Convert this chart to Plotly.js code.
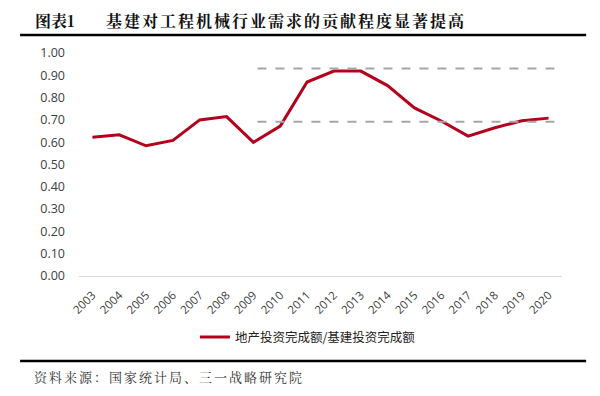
<!DOCTYPE html>
<html><head><meta charset="utf-8">
<script src="https://cdn.plot.ly/plotly-3.0.1.min.js"></script>
<style>
html,body{margin:0;padding:0;background:#fff}#chart{width:600px;height:396px}
g.annotation[data-index="1"] text{letter-spacing:2px}
g.annotation[data-index="2"] text{letter-spacing:2px}
</style>
</head><body><div id="chart"></div>
<script>
const years = ['2003','2004','2005','2006','2007','2008','2009','2010','2011','2012','2013','2014','2015','2016','2017','2018','2019','2020'];
const ratio = [0.622,0.633,0.584,0.608,0.700,0.715,0.599,0.672,0.870,0.919,0.919,0.854,0.754,0.695,0.627,0.665,0.696,0.708];
const seriesName = '地产投资完成额/基建投资完成额';
const refLevels = [0.931, 0.692];
const yTicks = [0,0.1,0.2,0.3,0.4,0.5,0.6,0.7,0.8,0.9,1.0];
const figLabel = '<b>图表1</b>';
const titleText = '<b>基建对工程机械行业需求的贡献程度显著提高</b>';
const sourceText = '资料来源：国家统计局、三一战略研究院';

const font = "'Open Sans','Noto Sans CJK SC',sans-serif";
const cjk = "'Noto Sans CJK SC',sans-serif";
const cjkSerif = "'Noto Serif CJK SC','Noto Sans CJK SC',serif";

const shapes = refLevels.map(v => ({
  type:'line', xref:'x', yref:'y', x0:6.15, x1:17.6, y0:v, y1:v,
  line:{color:'#a6a6a6', width:2, dash:'dash'}
}));
shapes.push({type:'line', xref:'paper', yref:'paper', x0:-0.122, x1:1.050, y0:1.081, y1:1.081, line:{color:'#000', width:2.5}});
shapes.push({type:'line', xref:'paper', yref:'paper', x0:-0.122, x1:1.050, y0:-0.381, y1:-0.381, line:{color:'#000', width:2.5}});

Plotly.newPlot('chart', [{
  x: years, y: ratio, type:'scatter', mode:'lines', name: seriesName,
  line:{color:'#b5001d', width:3}
}], {
  width:600, height:396,
  margin:{l:79, r:38, t:53, b:120},
  paper_bgcolor:'#fff', plot_bgcolor:'#fff',
  font:{family:font, color:'#404040', size:12},
  showlegend:true,
  legend:{orientation:'h', x:0.24, xanchor:'left', y:-0.275, yanchor:'middle',
    font:{family:cjk, size:12.5, color:'#222'}, itemwidth:30, bgcolor:'rgba(0,0,0,0)'},
  xaxis:{type:'category', range:[-0.5,17.5], tickangle:-45, showgrid:false, zeroline:false,
    showline:true, linecolor:'#d9d9d9', linewidth:1, ticks:'', ticklabelstandoff:7,
    tickfont:{size:11.5, color:'#404040'}},
  yaxis:{range:[0,1.0], tickvals:yTicks, tickformat:'.2f', showgrid:false, zeroline:false,
    showline:false, ticks:'', ticklabelstandoff:13, tickfont:{size:12.5, color:'#404040'}},
  shapes: shapes,
  annotations:[
    {text:figLabel, xref:'paper', yref:'paper', x:-0.095, y:1.146, xanchor:'left', yanchor:'middle', align:'left',
      showarrow:false, font:{family:cjkSerif, size:16, color:'#111'}},
    {text:titleText, xref:'paper', yref:'paper', x:0.052, y:1.146, xanchor:'left', yanchor:'middle', align:'left',
      showarrow:false, font:{family:cjkSerif, size:16, color:'#111'}},
    {text:sourceText, xref:'paper', yref:'paper', x:-0.097, y:-0.450, xanchor:'left', yanchor:'middle', align:'left',
      showarrow:false, font:{family:cjkSerif, size:13, color:'#333'}}
  ]
}, {displayModeBar:false, staticPlot:true});
</script></body></html>
